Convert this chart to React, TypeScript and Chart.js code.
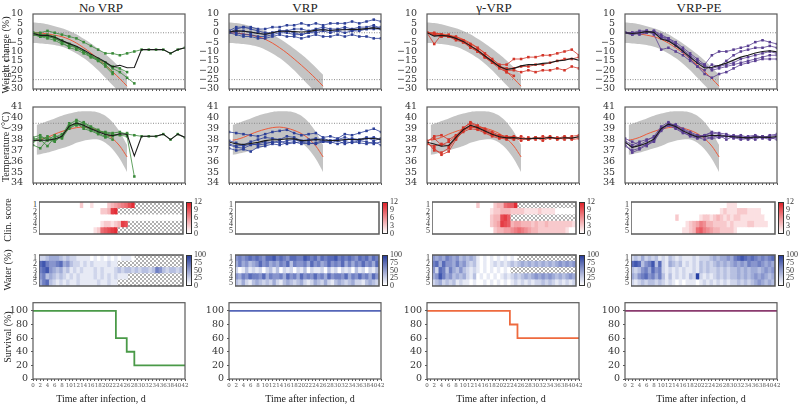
import React, { useEffect, useRef } from 'react';
import { Chart, registerables } from 'chart.js';

Chart.register(...registerables);

const N = null;

// ---------- categories / ticks ----------
const DAYS = [0, 2, 4, 6, 8, 10, 12, 14, 16, 18, 20, 22, 24, 26, 28, 30, 32, 34, 36, 38, 40, 42];
const HEAT_DAYS = Array.from({ length: 42 }, (_, i) => i);
const AXIS_DAYS = Array.from({ length: 43 }, (_, i) => i);
const WEIGHT_TICKS = [-30, -25, -20, -15, -10, -5, 0, 5, 10];
const TEMP_TICKS = [34, 35, 36, 37, 38, 39, 40, 41];
const SURV_TICKS = [0, 20, 40, 60, 80, 100];
const HEAT_ROW_LABELS = ['1', '2', '3', '4', '5'];
const CLIN_BAR_LABELS = ['12', '9', '6', '3', '0'];
const WATER_BAR_LABELS = ['100', '75', '50', '25', '0'];
const WEIGHT_REFS = [0, -25];
const TEMP_REFS = [39.5];
const COLUMN_TITLES = ['No VRP', 'VRP', '\u03B3-VRP', 'VRP-PE'];

// ---------- model prediction (red curve and grey band) ----------
const weightModelDays = [0, 2, 4, 6, 8, 10, 12, 14, 16, 18, 20, 22, 24, 26];
const weightModel = [0, -0.2, -0.6, -1.3, -2.1, -3.5, -5.5, -8, -10.8, -14, -17.3, -20.8, -24.5, -28.5];
const weightBandHi = [5.5, 5.2, 4.5, 3.5, 2.4, 1, -0.8, -3.2, -5.7, -8.5, -11.5, -14.8, -18.5, -22.5];
const weightBandLo = [-5.5, -5.7, -6, -6.5, -7.5, -9, -11, -13.5, -16.5, -20, -24, -28, -32, -36];

const tempModelDays = [1, 2, 4, 6, 8, 10, 12, 14, 16, 18, 20, 22, 24, 26];
const tempModel = [37.95, 38.0, 38.2, 38.5, 38.75, 38.95, 39.1, 39.15, 39.05, 38.85, 38.55, 38.1, 37.4, 36.4];
const tempBandHi = [39.35, 39.45, 39.7, 39.95, 40.2, 40.4, 40.55, 40.6, 40.6, 40.5, 40.2, 39.6, 38.7, 37.5];
const tempBandLo = [36.6, 36.65, 36.8, 37.0, 37.2, 37.4, 37.7, 37.9, 38.0, 38.0, 37.7, 37.1, 36.2, 35.0];

// ---------- weight change (%) per animal ----------
const weightNoVRP = [
  [0, -1, -1, -2, -4, -6, -8, -10, -12, -14, -16, -19, -21, -24, -27, N, N, N, N, N, N, N],
  [0, -2, -2, -3, -5, -6, -8, -10, -12, -15, -18, -22, N, N, N, N, N, N, N, N, N, N],
  [0, 0, 1, 0, -1, -2, -3, -5, -7, -9, -11, -11, -12, -11, -10, -9, -9, -9, -9, -11, -9, -8],
  [-1, -2, -2, -3, -5, -8, -9, -11, -13, -14, -16, -18, -19, -21, N, N, N, N, N, N, N, N],
  [-1, -2, -3, -4, -6, -7, -8, -10, -13, -15, -17, -21, N, N, N, N, N, N, N, N, N, N],
];
const weightVRP = [
  [0, 2, 3, 3, 2, 2, 3, 3, 4, 4, 5, 4, 5, 4, 5, 5, 5, 6, 5, 6, 7, 6],
  [0, 1, 1, 0, 0, -1, 0, 1, 1, 0, -1, 0, 1, 2, 1, 1, 2, 1, 2, 2, 3, 3],
  [1, 0, -1, -1, -2, -2, -1, 0, 0, -1, -1, 0, 0, 1, 0, 1, 0, 1, 1, 2, 2, 2],
  [0, -1, -2, -2, -3, -3, -2, -1, -2, -2, -3, -2, -1, -2, -2, -1, -2, -1, -2, -2, -3, -3],
  [1, 3, 3, 2, 1, 0, 0, 1, 1, 2, 2, 1, 2, 3, 2, 2, 3, 2, 3, 3, 4, 2],
];
const weightGammaVRP = [
  [0, -1, -1, -2, -3, -5, -7, -10, -13, -16, -19, -21, -23, N, N, N, N, N, N, N, N, N],
  [0, -6, -1, -2, -2, -4, -6, -8, -11, -14, -17, -17, -14, -14, -13, -13, -12, -12, -11, -10, -9, -12],
  [0, -1, -2, -1, -3, -4, -7, -9, -12, -15, -18, -21, N, N, N, N, N, N, N, N, N, N],
  [0, 0, -1, -2, -3, -5, -7, -10, -13, -15, -18, -19, -19, -18, -18, -17, -17, -16, -15, -14, -14, -13],
  [0, -1, -2, -2, -4, -5, -8, -10, -13, -16, -18, -20, -20, -21, -20, -21, -20, -20, -19, -20, -18, -19],
];
const weightVRPPE = [
  [0, 0, 1, 1, 0, -2, -4, -7, -10, -13, -16, -17, -12, -10, -10, -9, -8, -7, -5, -4, -5, -6],
  [0, -1, 0, 1, -1, -9, -8, -10, -12, -15, -18, -20, -17, -18, -15, -12, -10, -9, -8, -8, -7, -8],
  [0, 0, -1, 0, 1, -1, -3, -6, -10, -14, -18, -22, -24, -22, -21, -19, -17, -16, -15, -14, -14, -14],
  [0, -1, 0, 0, 1, -2, -3, -5, -8, -11, -14, -17, -20, -19, -18, -17, -16, -15, -14, -13, -12, -12],
  [0, 0, 0, 1, 0, -3, -4, -6, -9, -12, -15, -18, -19, -18, -17, -16, -14, -13, -12, -11, -10, -11],
];

// ---------- temperature (°C) per animal ----------
const tempNoVRP = [
  [38.0, 38.2, 38.1, 37.9, 38.3, 39.2, 39.6, 39.3, 39.0, 38.8, 38.6, 38.5, 38.4, 38.3, 34.6, N, N, N, N, N, N, N],
  [37.8, 38.0, 37.4, 38.2, 38.5, 39.0, 39.4, 39.2, 38.9, 38.6, 38.3, 38.0, N, N, N, N, N, N, N, N, N, N],
  [38.1, 37.9, 38.3, 38.0, 38.2, 39.4, 39.8, 39.5, 39.1, 38.8, 38.7, 38.6, 38.7, 38.5, 38.4, 38.3, 38.3, 38.3, 38.5, 38.0, 38.5, 38.2],
  [37.5, 37.2, 38.0, 37.8, 38.4, 39.5, 39.3, 39.6, 39.2, 38.9, 38.5, 38.3, 38.5, 38.6, N, N, N, N, N, N, N, N],
  [38.2, 38.4, 37.9, 38.4, 38.1, 39.1, 39.5, 39.0, 38.8, 38.5, 38.2, 38.4, N, N, N, N, N, N, N, N, N, N],
];
const tempVRP = [
  [38.7, 38.6, 38.5, 38.4, 38.3, 38.5, 38.7, 38.8, 38.9, 38.6, 38.4, 38.5, 38.6, 38.2, 38.3, 38.1, 38.5, 38.4, 38.6, 38.8, 39.0, 38.7],
  [37.6, 37.4, 37.5, 37.8, 38.0, 38.2, 38.1, 38.0, 38.3, 38.2, 37.9, 38.0, 38.1, 37.8, 37.9, 38.0, 38.2, 38.0, 37.9, 38.1, 38.2, 38.0],
  [37.2, 37.0, 37.1, 36.9, 37.3, 37.4, 37.6, 37.5, 37.7, 37.8, 37.6, 37.7, 37.6, 37.8, 37.7, 37.9, 37.6, 37.8, 37.7, 37.6, 37.8, 37.5],
  [37.5, 37.3, 37.2, 37.5, 37.6, 37.8, 37.7, 37.9, 37.6, 37.7, 37.8, 37.6, 37.7, 37.9, 37.8, 37.6, 37.8, 37.7, 37.9, 37.8, 37.6, 37.8],
  [37.9, 37.7, 37.4, 37.6, 37.5, 37.6, 37.8, 37.7, 37.9, 38.0, 37.8, 37.9, 38.0, 38.1, 37.9, 38.0, 37.9, 38.1, 38.0, 38.2, 37.9, 38.1],
];
const tempGammaVRP = [
  [37.8, 37.0, 36.8, 37.2, 38.2, 39.0, 39.6, 39.3, 39.0, 38.7, 38.4, 38.3, 38.2, N, N, N, N, N, N, N, N, N],
  [37.8, 38.3, 38.4, 38.0, 38.4, 38.9, 39.3, 39.1, 38.8, 38.5, 38.3, 38.2, 38.0, 38.3, 38.0, 38.2, 38.1, 38.3, 38.0, 38.2, 38.1, 38.3],
  [37.7, 37.2, 36.6, 36.9, 38.0, 38.8, 39.2, 39.0, 38.7, 38.4, 38.2, 38.0, N, N, N, N, N, N, N, N, N, N],
  [37.9, 38.1, 37.5, 37.8, 38.3, 39.1, 39.5, 39.2, 38.9, 38.6, 38.3, 38.1, 38.2, 37.9, 38.2, 38.0, 38.3, 38.1, 38.2, 38.0, 38.3, 38.4],
  [37.6, 37.4, 37.6, 37.4, 38.1, 38.7, 39.0, 38.9, 38.6, 38.3, 38.1, 38.2, 38.3, 38.1, 38.0, 38.2, 37.9, 38.2, 38.1, 38.3, 38.0, 38.1],
];
const tempVRPPE = [
  [37.9, 37.5, 37.8, 38.0, 38.2, 39.0, 39.5, 39.3, 38.9, 38.6, 38.3, 38.4, 38.6, 38.5, 38.3, 38.4, 38.2, 38.3, 38.4, 38.2, 38.3, 38.4],
  [37.4, 37.0, 37.2, 37.6, 37.9, 38.8, 39.3, 39.4, 39.0, 38.7, 38.4, 38.3, 38.1, 38.2, 38.4, 38.1, 38.3, 38.0, 38.2, 38.3, 38.1, 38.2],
  [38.1, 37.8, 37.5, 37.9, 38.3, 39.2, 39.6, 39.2, 38.8, 38.5, 38.2, 38.0, 38.2, 38.4, 38.0, 38.3, 38.1, 38.2, 38.0, 38.3, 38.2, 38.0],
  [37.6, 36.8, 37.1, 37.5, 37.8, 38.9, 39.4, 39.1, 38.7, 38.3, 38.1, 38.4, 38.7, 38.6, 38.5, 38.3, 38.4, 38.2, 38.3, 38.1, 38.4, 38.5],
  [37.8, 37.3, 37.6, 37.4, 38.0, 39.1, 39.3, 39.0, 38.6, 38.4, 38.2, 38.3, 38.4, 38.2, 38.3, 38.2, 38.0, 38.1, 38.3, 38.2, 38.0, 38.3],
];

// ---------- clinical score per day (0-9, a=10, b=11, c=12; x = dead) ----------
const clinNoVRP = [
  '0'.repeat(12) + '2' + '00' + '1' + '0000' + '2345679b' + 'x'.repeat(14),
  '0'.repeat(18) + '223' + 'ab' + 'x'.repeat(19),
  '0'.repeat(42),
  '0'.repeat(18) + '122123' + 'a9' + 'x'.repeat(16),
  '0'.repeat(16) + '12' + '789ab' + 'x'.repeat(19),
];
const clinVRP = ['0'.repeat(42), '0'.repeat(42), '0'.repeat(42), '0'.repeat(42), '0'.repeat(42)];
const clinGammaVRP = [
  '0'.repeat(13) + '2' + '0000' + '233' + '788b' + 'x'.repeat(17),
  '0'.repeat(17) + '122333' + '2222111121' + '111000000',
  '0'.repeat(17) + '233' + '9a8' + 'x'.repeat(19),
  '0'.repeat(17) + '234' + 'a98' + '3443332322322222221',
  '0'.repeat(18) + '233445' + '6765' + '43322222222100',
];
const clinVRPPE = [
  '0'.repeat(28) + '111' + '0'.repeat(11),
  '0'.repeat(26) + '121112221111' + '0000',
  '0'.repeat(13) + '2' + '0'.repeat(6) + '1221232121221111111' + '000',
  '0'.repeat(16) + '1234653322221211112211' + '1100',
  '0'.repeat(15) + '1123786543322221' + '0'.repeat(11),
];

// ---------- water (%) per day (digit d = d/9 of 100; x = dead) ----------
const waterNoVRP = [
  '2234443232211110101010101110' + 'x'.repeat(14),
  '78655674532212121111211' + 'x'.repeat(19),
  '67854342312121112121112' + '3233232332365323323',
  '56343232121211112121212111' + 'x'.repeat(16),
  '46732121211211111211211' + 'x'.repeat(19),
];
const waterVRP = [
  '565676765778676577668767576778676765767576',
  '464534575645465736556475645756574646575647',
  '201312120231302120213021120312021203120213',
  '546576657465564756475657564756657465756475',
  '324213432324213432342124324213432342213432',
];
const waterGammaVRP = [
  '5454654534343' + '101010101010' + 'x'.repeat(17),
  '6747554645323' + '10101212123234343434343454545',
  '5276364353212' + '1010101010' + 'x'.repeat(19),
  '4586453434213' + '01010101212323434545454343454',
  '2342323121101' + '00101010101212121223232121212',
];
const waterVRPPE = [
  '232423231213212111212223434454678767656567',
  '787356837214323121213232343434545465565454',
  '323564756212121211213232232323343434434545',
  '435675646313121213292121232323343434545434',
  '212323323212101011101212121212232323454343',
];

// ---------- survival (%) ----------
const survDaysNoVRP = [0, 22.9, 25.9, 28, 42];
const survNoVRP = [100, 60, 40, 20, 20];
const survDaysVRP = [0, 42];
const survVRP = [100, 100];
const survDaysGammaVRP = [0, 22.9, 25, 42];
const survGammaVRP = [100, 80, 60, 60];
const survDaysVRPPE = [0, 42];
const survVRPPE = [100, 100];

// ---------- styling / layout ----------
const SERIF = "'Liberation Serif', 'Times New Roman', serif";
const NUMF = "'DejaVu Serif', serif";
const MODEL_RED = '#ec5a3a';
const BAND = '#c4c4c4';
const FRAME = '#5a5a5a';
const TXT = '#333';

const PLOT_L = [33, 229, 427, 625];
const PLOT_W = 152;
const HEAT_L = [39, 235, 432, 631];
const HEAT_W = 144;
const CLIN_TOP = 202;
const CLIN_H = 32;
const WATER_TOP = 255;
const WATER_H = 31;
const TITLE_X = [101, 305, 494, 699];
const XTITLE_X = [101, 310, 501, 701];

type Column = {
  color: string; survColor: string;
  weight: (number | null)[][]; temp: (number | null)[][];
  clin: string[]; water: string[];
  survDays: number[]; surv: number[];
};

const COLS: Column[] = [
  { color: '#3a8a3a', survColor: '#4a9a48', weight: weightNoVRP, temp: tempNoVRP, clin: clinNoVRP, water: waterNoVRP, survDays: survDaysNoVRP, surv: survNoVRP },
  { color: '#2c3f98', survColor: '#5566b8', weight: weightVRP, temp: tempVRP, clin: clinVRP, water: waterVRP, survDays: survDaysVRP, surv: survVRP },
  { color: '#d3362a', survColor: '#ee6a3e', weight: weightGammaVRP, temp: tempGammaVRP, clin: clinGammaVRP, water: waterGammaVRP, survDays: survDaysGammaVRP, surv: survGammaVRP },
  { color: '#5a3f92', survColor: '#8a3a6e', weight: weightVRPPE, temp: tempVRPPE, clin: clinVRPPE, water: waterVRPPE, survDays: survDaysVRPPE, surv: survVRPPE },
];

function pts(xs: number[], ys: (number | null)[]) {
  return xs.map((x, i) => ({ x, y: ys[i] }));
}

function groupMean(series: (number | null)[][]) {
  return DAYS.map((_, i) => {
    const v = series.map((s) => s[i]).filter((x): x is number => x !== null);
    return v.length ? v.reduce((a, b) => a + b, 0) / v.length : null;
  });
}

const framePlugin = (lw: number) => ({
  id: 'frame',
  afterDraw(chart: any) {
    const { ctx, chartArea: a } = chart;
    ctx.save();
    ctx.strokeStyle = FRAME;
    ctx.lineWidth = lw;
    ctx.strokeRect(a.left, a.top, a.right - a.left, a.bottom - a.top);
    ctx.restore();
  },
});

const fmtNum = (v: number) => (v < 0 ? '\u2212' + Math.abs(v) : String(v));

function baseOptions(padT: number, padR: number, padB: number) {
  return {
    animation: false,
    responsive: true,
    maintainAspectRatio: false,
    events: [],
    plugins: { legend: { display: false }, tooltip: { enabled: false } },
    layout: { padding: { top: padT, right: padR, left: 0, bottom: padB } },
  };
}

function lineCfg(kind: 'weight' | 'temp', col: Column, axisW: number, axisH: number) {
  const isW = kind === 'weight';
  const animals = isW ? col.weight : col.temp;
  const md = isW ? weightModelDays : tempModelDays;
  const lo = isW ? weightBandLo : tempBandLo;
  const hi = isW ? weightBandHi : tempBandHi;
  const model = isW ? weightModel : tempModel;
  const refs = isW ? WEIGHT_REFS : TEMP_REFS;
  const yt = isW ? WEIGHT_TICKS : TEMP_TICKS;
  const datasets: any[] = [
    { data: pts(md, lo), borderColor: 'transparent', borderWidth: 0, pointRadius: 0, fill: false, order: 100, tension: 0.3 },
    { data: pts(md, hi), borderColor: 'transparent', borderWidth: 0, pointRadius: 0, fill: '-1', backgroundColor: BAND, order: 99, tension: 0.3 },
    ...refs.map((v) => ({ data: [{ x: 0, y: v }, { x: 42, y: v }], borderColor: '#8c8c8c', borderWidth: 1, borderDash: [1, 1.5], pointRadius: 0, order: 98 })),
    { data: pts(md, model), borderColor: MODEL_RED, borderWidth: 1, pointRadius: 0, order: 90, tension: 0.3 },
    ...animals.map((a) => ({
      data: pts(DAYS, a), borderColor: col.color, borderWidth: 0.8, pointRadius: 1.8, pointStyle: 'rect',
      pointBackgroundColor: col.color, pointBorderWidth: 0, order: 10,
    })),
    { data: pts(DAYS, groupMean(animals)), borderColor: '#1b1b1b', borderWidth: 1.1, pointRadius: 0, order: 5 },
  ];
  return {
    type: 'line',
    data: { datasets },
    plugins: [framePlugin(1.2)],
    options: {
      ...baseOptions(8, 6, 0),
      scales: {
        x: {
          type: 'linear', min: 0, max: 42,
          afterBuildTicks: (s: any) => { s.ticks = AXIS_DAYS.map((v) => ({ value: v })); },
          ticks: { display: false },
          grid: { drawOnChartArea: false, tickLength: 2, color: FRAME },
          border: { display: false },
          afterFit: (s: any) => { s.height = axisH; },
        },
        y: {
          type: 'linear', min: isW ? -30 : 34, max: isW ? 10 : 41,
          afterBuildTicks: (s: any) => { s.ticks = yt.map((v) => ({ value: v })); },
          ticks: {
            autoSkip: false, font: { family: NUMF, size: 9.5 }, color: TXT, padding: 2,
            callback: (v: any) => fmtNum(Number(v)),
          },
          grid: { display: false },
          border: { display: false },
          afterFit: (s: any) => { s.width = axisW; },
        },
      },
    },
  };
}

function makeHatch() {
  const c = document.createElement('canvas');
  c.width = 4; c.height = 4;
  const g = c.getContext('2d')!;
  g.fillStyle = '#ffffff';
  g.fillRect(0, 0, 4, 4);
  g.strokeStyle = '#7a7a7a';
  g.lineWidth = 0.6;
  g.beginPath();
  g.moveTo(0, 0); g.lineTo(4, 4);
  g.moveTo(4, 0); g.lineTo(0, 4);
  g.stroke();
  return g.createPattern(c, 'repeat')!;
}

function clinColor(ch: string) {
  const v = parseInt(ch, 16);
  const t = Math.pow(v / 12, 0.8);
  return `rgb(${Math.round(255 - t * 30)},${Math.round(255 - t * 225)},${Math.round(255 - t * 215)})`;
}
function waterColor(ch: string) {
  const t = Number(ch) / 9;
  return `rgb(${Math.round(255 - t * 215)},${Math.round(255 - t * 190)},${Math.round(255 - t * 90)})`;
}

function heatCfg(rows: string[], kind: 'clin' | 'water') {
  const pattern = makeHatch();
  const colorOf = kind === 'clin' ? clinColor : waterColor;
  const datasets = rows.slice().reverse().map((r) => {
    const cells = r.split('');
    return {
      data: cells.map(() => 1),
      backgroundColor: cells.map((ch) => (ch === 'x' ? pattern : colorOf(ch))),
      borderWidth: 0,
      categoryPercentage: 1,
      barPercentage: 1,
    };
  });
  return {
    type: 'bar',
    data: { labels: HEAT_DAYS, datasets },
    plugins: [framePlugin(1.5)],
    options: {
      ...baseOptions(2, 2, 2),
      scales: {
        x: { display: false, stacked: true },
        y: { display: false, stacked: true, min: 0, max: 5 },
      },
    },
  };
}

function survCfg(col: Column, axisW: number, axisH: number) {
  return {
    type: 'line',
    data: {
      datasets: [{
        data: pts(col.survDays, col.surv), stepped: 'before', borderColor: col.survColor, borderWidth: 1.8, pointRadius: 0,
      }],
    },
    plugins: [framePlugin(1.2)],
    options: {
      ...baseOptions(8, 6, 0),
      scales: {
        x: {
          type: 'linear', min: 0, max: 42,
          afterBuildTicks: (s: any) => { s.ticks = AXIS_DAYS.map((v) => ({ value: v })); },
          ticks: {
            autoSkip: false, maxRotation: 0, minRotation: 0, padding: 1,
            font: { family: NUMF, size: 5.5 }, color: '#555',
            callback: (v: any) => (Number(v) % 2 === 0 ? String(v) : ''),
          },
          grid: { drawOnChartArea: false, tickLength: 2, color: FRAME },
          border: { display: false },
          afterFit: (s: any) => { s.height = axisH; },
        },
        y: {
          type: 'linear', min: 0, max: 112,
          afterBuildTicks: (s: any) => { s.ticks = SURV_TICKS.map((v) => ({ value: v })); },
          ticks: { autoSkip: false, font: { family: NUMF, size: 9.5 }, color: TXT, padding: 3 },
          grid: { drawOnChartArea: false, tickLength: 2, color: FRAME },
          border: { display: false },
          afterFit: (s: any) => { s.width = axisW; },
        },
      },
    },
  };
}

type BoxProps = {
  left: number; top: number; width: number; height: number;
  axisW: number; axisH: number; padT: number; padR: number; padB?: number;
  make: () => any;
};

function ChartBox({ left, top, width, height, axisW, axisH, padT, padR, padB = 0, make }: BoxProps) {
  const ref = useRef<HTMLCanvasElement>(null);
  useEffect(() => {
    const chart = new Chart(ref.current as HTMLCanvasElement, make());
    return () => chart.destroy();
  }, []);
  return (
    <div
      style={{
        position: 'absolute', left: left - axisW, top: top - padT,
        width: width + axisW + padR, height: height + padT + axisH + padB,
      }}
    >
      <canvas ref={ref} />
    </div>
  );
}

function ColorBar({ left, top, height, color, labels }: { left: number; top: number; height: number; color: string; labels: string[] }) {
  return (
    <>
      <div
        style={{
          position: 'absolute', left, top, width: 6, height, boxSizing: 'border-box',
          border: '1px solid #333', background: `linear-gradient(to bottom, ${color}, #ffffff)`,
        }}
      />
      {labels.map((l, i) => (
        <div
          key={i}
          style={{
            position: 'absolute', left: left + 8, top: top + (i * height) / (labels.length - 1) - 5,
            font: `8px ${SERIF}`, lineHeight: '10px', color: TXT, whiteSpace: 'nowrap',
          }}
        >
          {l}
        </div>
      ))}
    </>
  );
}

function RowLabels({ right, top, height }: { right: number; top: number; height: number }) {
  return (
    <>
      {HEAT_ROW_LABELS.map((l, i) => (
        <div
          key={i}
          style={{
            position: 'absolute', left: right - 12, width: 12, textAlign: 'right',
            top: top + ((i + 0.5) * height) / HEAT_ROW_LABELS.length - 5,
            font: `8px ${SERIF}`, lineHeight: '10px', color: TXT,
          }}
        >
          {l}
        </div>
      ))}
    </>
  );
}

function Label({ x, y, text, size, rotate }: { x: number; y: number; text: string; size: number; rotate?: boolean }) {
  return (
    <div
      style={{
        position: 'absolute', left: x, top: y, whiteSpace: 'nowrap', color: '#222',
        font: `${size}px ${SERIF}`, lineHeight: `${size + 2}px`,
        transform: `translate(-50%, -50%)${rotate ? ' rotate(-90deg)' : ''}`,
      }}
    >
      {text}
    </div>
  );
}

export default function App() {
  return (
    <div style={{ position: 'fixed', left: 0, top: 0, width: 800, height: 404, background: '#fff', overflow: 'hidden' }}>
      {COLS.map((c, i) => (
        <React.Fragment key={i}>
          <Label x={TITLE_X[i]} y={7} text={COLUMN_TITLES[i]} size={13} />
          <ChartBox left={PLOT_L[i]} top={14} width={PLOT_W} height={75} axisW={33} axisH={8} padT={8} padR={6}
            make={() => lineCfg('weight', c, 33, 8)} />
          <ChartBox left={PLOT_L[i]} top={107} width={PLOT_W} height={76} axisW={33} axisH={8} padT={8} padR={6}
            make={() => lineCfg('temp', c, 33, 8)} />
          <ChartBox left={HEAT_L[i]} top={CLIN_TOP} width={HEAT_W} height={CLIN_H} axisW={0} axisH={0} padT={2} padR={2} padB={2}
            make={() => heatCfg(c.clin, 'clin')} />
          <RowLabels right={HEAT_L[i] - 2} top={CLIN_TOP} height={CLIN_H} />
          <ChartBox left={HEAT_L[i]} top={WATER_TOP} width={HEAT_W} height={WATER_H} axisW={0} axisH={0} padT={2} padR={2} padB={2}
            make={() => heatCfg(c.water, 'water')} />
          <RowLabels right={HEAT_L[i] - 2} top={WATER_TOP} height={WATER_H} />
          <ColorBar left={HEAT_L[i] + HEAT_W + 3} top={CLIN_TOP} height={CLIN_H} color="#e0222a" labels={CLIN_BAR_LABELS} />
          <ColorBar left={HEAT_L[i] + HEAT_W + 3} top={WATER_TOP} height={WATER_H} color="#2a3f9c" labels={WATER_BAR_LABELS} />
          <ChartBox left={PLOT_L[i]} top={302} width={PLOT_W} height={77} axisW={33} axisH={11} padT={8} padR={6}
            make={() => survCfg(c, 33, 11)} />
          <Label x={XTITLE_X[i]} y={399} text="Time after infection, d" size={10} />
        </React.Fragment>
      ))}
      <Label x={6} y={55} text="Weight change (%)" size={10} rotate />
      <Label x={6} y={147} text="Temperature (°C)" size={10} rotate />
      <Label x={8} y={220} text="Clin. score" size={10} rotate />
      <Label x={8} y={270} text="Water (%)" size={10} rotate />
      <Label x={8} y={337} text="Survival (%)" size={10} rotate />
    </div>
  );
}
